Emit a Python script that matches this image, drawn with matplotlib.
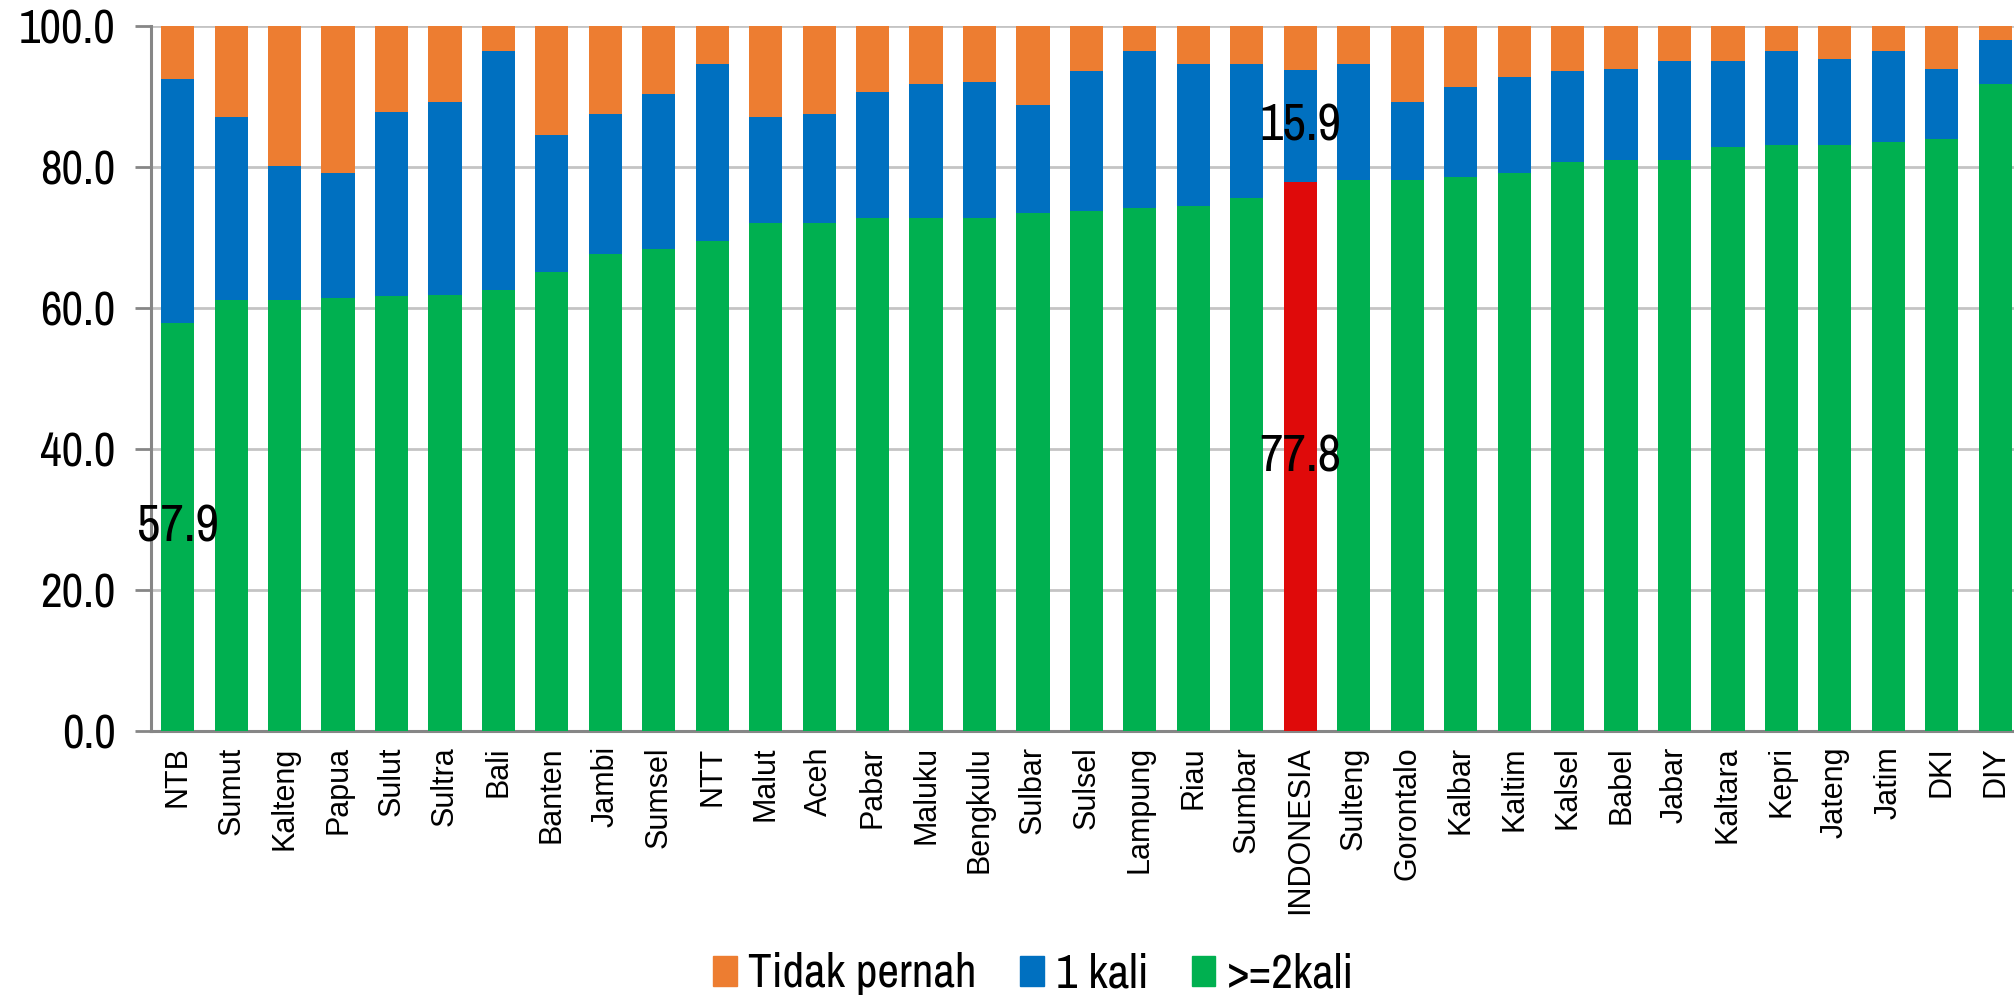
import matplotlib.pyplot as plt
import numpy as np
from matplotlib.patches import Patch

# data (percent)
provinsi = ['NTB', 'Sumut', 'Kalteng', 'Papua', 'Sulut', 'Sultra', 'Bali', 'Banten', 'Jambi',
            'Sumsel', 'NTT', 'Malut', 'Aceh', 'Pabar', 'Maluku', 'Bengkulu', 'Sulbar', 'Sulsel',
            'Lampung', 'Riau', 'Sumbar', 'INDONESIA', 'Sulteng', 'Gorontalo', 'Kalbar', 'Kaltim',
            'Kalsel', 'Babel', 'Jabar', 'Kaltara', 'Kepri', 'Jateng', 'Jatim', 'DKI', 'DIY']
dua_kali = [57.9, 61.1, 61.1, 61.4, 61.7, 61.8, 62.5, 65.0, 67.6, 68.3, 69.4, 72.0, 72.0, 72.7,
            72.7, 72.7, 73.4, 73.7, 74.1, 74.4, 75.5, 77.8, 78.1, 78.1, 78.5, 79.1, 80.6, 80.9,
            80.9, 82.8, 83.1, 83.1, 83.5, 83.9, 91.7]
satu_kali = [34.5, 25.9, 19.0, 17.7, 26.1, 27.4, 33.9, 19.5, 19.8, 22.0, 25.2, 15.1, 15.4, 17.9,
             19.0, 19.3, 15.4, 19.8, 22.3, 20.2, 19.1, 15.9, 16.5, 11.1, 12.8, 13.6, 12.9, 13.0,
             14.1, 12.2, 13.3, 12.2, 12.9, 10.0, 6.2]
tidak_pernah = [7.6, 13.0, 19.9, 20.9, 12.2, 10.8, 3.6, 15.5, 12.6, 9.7, 5.4, 12.9, 12.6, 9.4,
                8.3, 8.0, 11.2, 6.5, 3.6, 5.4, 5.4, 6.3, 5.4, 10.8, 8.7, 7.3, 6.5, 6.1, 5.0, 5.0,
                3.6, 4.7, 3.6, 6.1, 2.1]
ticks_y = [0, 20, 40, 60, 80, 100]

c_orange = '#ED7D31'
c_blue = '#0070C0'
c_green = '#00B050'
c_red = '#DF0A0A'
narrow = ['Archivo Narrow', 'DejaVu Sans']

fig = plt.figure(figsize=(20.15, 10.01), dpi=100)
ax = fig.add_axes([0.0749, 0.2697, 0.9251, 0.7048])

x = np.arange(len(provinsi))
g = np.array(dua_kali)
b = np.array(satu_kali)
o = np.array(tidak_pernah)
green_cols = [c_red if p == 'INDONESIA' else c_green for p in provinsi]

w = 0.62
ax.bar(x, g, w, color=green_cols, zorder=3)
ax.bar(x, b, w, bottom=g, color=c_blue, zorder=3)
ax.bar(x, o, w, bottom=g + b, color=c_orange, zorder=3)

# data labels
i0 = provinsi.index('NTB')
ax.text(x[i0], g[i0] / 2, '%.1f' % g[i0], ha='center', va='center', fontsize=37,
        family=narrow, zorder=5)
i1 = provinsi.index('INDONESIA')
ax.text(x[i1], g[i1] / 2, '%.1f' % g[i1], ha='center', va='center', fontsize=37,
        family=narrow, zorder=5)
ax.text(x[i1], g[i1] + b[i1] / 2, '%.1f' % b[i1], ha='center', va='center', fontsize=37,
        family=narrow, zorder=5)

ax.set_xlim(-0.5, 34.37)
ax.set_ylim(0, 100)
ax.set_yticks(ticks_y)
ax.set_yticklabels(['%.1f' % t for t in ticks_y], fontsize=34, family=narrow)
ax.set_xticks(x)
ax.set_xticklabels(provinsi, rotation=90, fontsize=22, family='Liberation Sans', va='top')
ax.tick_params(axis='x', length=0, pad=11)
ax.tick_params(axis='y', length=11.5, width=2, color='#868686', pad=14)
ax.yaxis.grid(True, color='#C4C4C4', linewidth=2, zorder=0)

for s in ['top', 'right']:
    ax.spines[s].set_visible(False)
for s in ['left', 'bottom']:
    ax.spines[s].set_color('#868686')
    ax.spines[s].set_linewidth(2.2)

handles = [Patch(color=c_orange, label='Tidak pernah'),
           Patch(color=c_blue, label='1 kali'),
           Patch(color=c_green, label='>=2kali')]
fig.legend(handles=handles, loc='center', bbox_to_anchor=(0.513, 0.027), ncol=3, frameon=False,
           prop={'family': narrow, 'size': 34}, handlelength=0.5, handleheight=0.62,
           handletextpad=0.25, columnspacing=0.92)

fig.savefig('out.png', dpi=100)
